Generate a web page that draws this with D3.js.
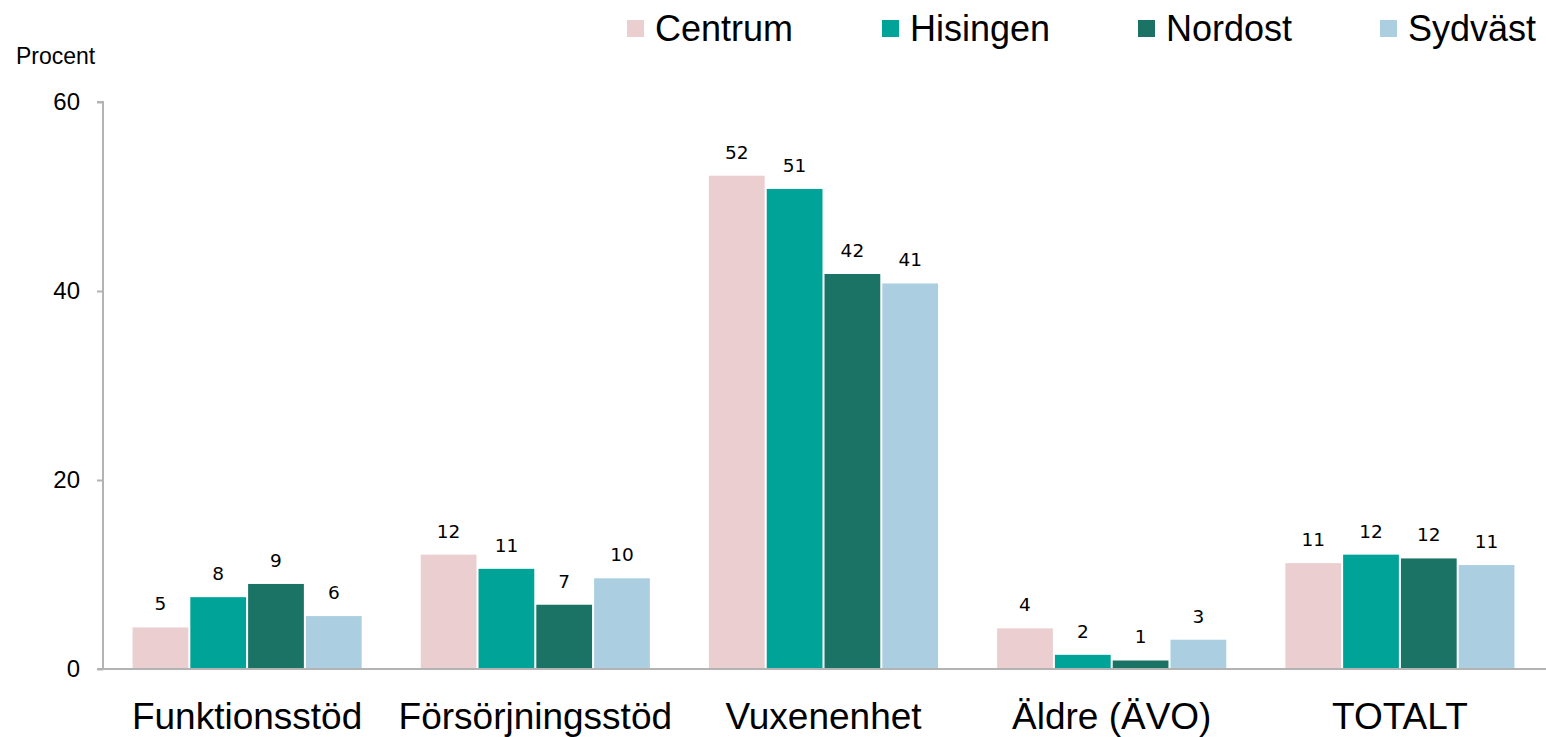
<!DOCTYPE html>
<html><head><meta charset="utf-8">
<script src="https://cdn.jsdelivr.net/npm/d3@7"></script>
<style>body{margin:0;background:#fff;} svg{display:block;}</style>
</head><body>
<svg id="c" width="1546" height="737"></svg>
<script>
const categories = ["Funktionsstöd","Försörjningsstöd","Vuxenenhet","Äldre (ÄVO)","TOTALT"];
const seriesNames = ["Centrum","Hisingen","Nordost","Sydväst"];
const centrum  = [4.4, 12.1, 52.2, 4.3, 11.2];
const hisingen = [7.6, 10.6, 50.8, 1.5, 12.1];
const nordost  = [9.0, 6.8, 41.8, 0.9, 11.7];
const sydvast  = [5.6, 9.6, 40.8, 3.1, 11.0];
const centrumLabels  = [5, 12, 52, 4, 11];
const hisingenLabels = [8, 11, 51, 2, 12];
const nordostLabels  = [9, 7, 42, 1, 12];
const sydvastLabels  = [6, 10, 41, 3, 11];
const yTicks = [0, 20, 40, 60];
const colors = ["#EBCFD0", "#00A398", "#1B7366", "#ABCFE0"];

const values = [centrum, hisingen, nordost, sydvast];
const labels = [centrumLabels, hisingenLabels, nordostLabels, sydvastLabels];

const svg = d3.select("#c");
const font = "'Liberation Sans', Arial, sans-serif";

const x0 = d3.scaleBand().domain(categories).range([103, 1544]).paddingInner(0.205).paddingOuter(0.1025);
const x1 = d3.scaleBand().domain(seriesNames).range([0, x0.bandwidth()]).paddingInner(0.035);
const y = d3.scaleLinear().domain([0, 60]).range([669, 102]);

// y axis
const yAxis = d3.axisLeft(y).tickValues(yTicks).tickSize(6).tickPadding(17);
const ga = svg.append("g").attr("transform", "translate(103,0)").call(yAxis);
ga.select(".domain").attr("stroke", "#b3b3b3").attr("stroke-width", 2).attr("d", "M-6,102H0V669");
ga.selectAll(".tick line").attr("stroke", "#b3b3b3").attr("stroke-width", 2);
ga.selectAll(".tick text").attr("font-family", font).attr("font-size", 24).attr("fill", "#000");

svg.append("text").attr("x", 16).attr("y", 64).attr("font-family", font).attr("font-size", 23).text("Procent");

// bars
categories.forEach((cat, ci) => {
  const g = svg.append("g").attr("transform", `translate(${x0(cat)},0)`);
  seriesNames.forEach((s, si) => {
    const v = values[si][ci];
    g.append("rect").attr("x", x1(s)).attr("y", y(v)).attr("width", x1.bandwidth())
      .attr("height", y(0) - y(v)).attr("fill", colors[si]);
    g.append("text").attr("x", x1(s) + x1.bandwidth() / 2).attr("y", y(v) - 17)
      .attr("text-anchor", "middle").attr("font-family", "'DejaVu Sans', sans-serif")
      .attr("font-size", 18.5).attr("fill", "#000").text(labels[si][ci]);
  });
});

// x axis
const xAxis = d3.axisBottom(x0).tickSize(0).tickPadding(34);
const gx = svg.append("g").attr("transform", "translate(0,669)").call(xAxis);
gx.select(".domain").attr("stroke", "#b3b3b3").attr("stroke-width", 2).attr("d", "M97,0H1546");
gx.selectAll(".tick text").attr("font-family", font).attr("font-size", 37).attr("fill", "#000");

// legend
const legendX = [627, 882, 1138, 1380];
seriesNames.forEach((s, i) => {
  const lg = svg.append("g").attr("transform", `translate(${legendX[i]},0)`);
  lg.append("rect").attr("x", 0).attr("y", 20).attr("width", 17).attr("height", 17).attr("fill", colors[i]);
  lg.append("text").attr("x", 28).attr("y", 41).attr("font-family", font).attr("font-size", 36).text(s);
});
</script>
</body></html>
